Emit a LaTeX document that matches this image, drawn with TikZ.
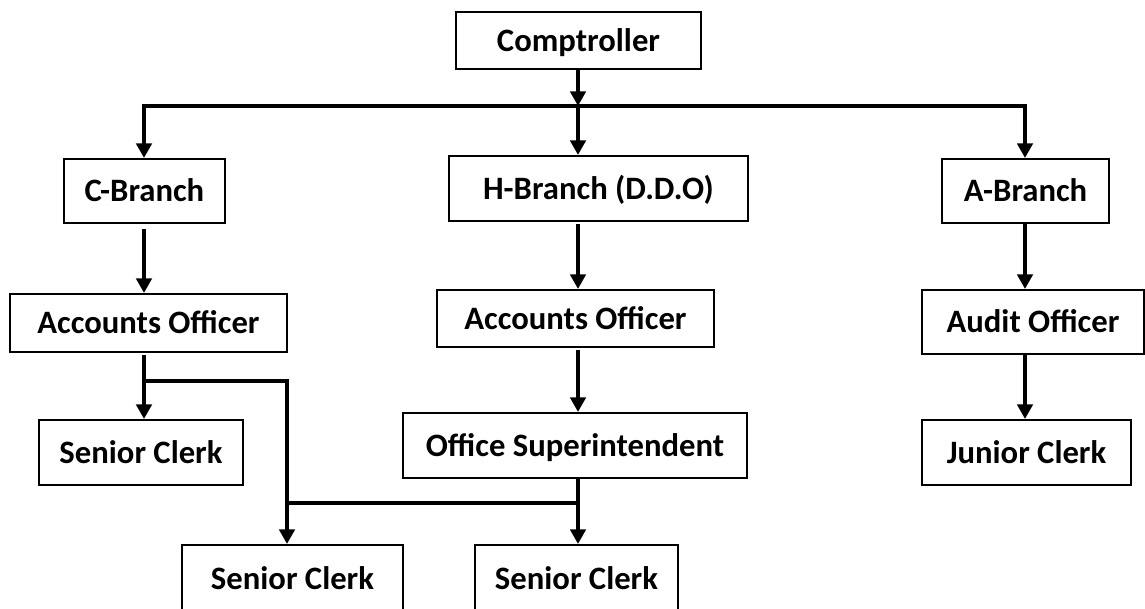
\documentclass[tikz,border=0pt]{standalone}
\usepackage{fontspec}
\setmainfont{Carlito}
\usetikzlibrary{arrows.meta}
\begin{document}
\begin{tikzpicture}[x=0.75pt,y=-0.75pt,
  box/.style={draw=black, line width=1.5pt, inner sep=0pt, align=center,
    text height=16.5pt, text depth=0.7pt,
    font=\fontsize{24.5}{28}\selectfont\bfseries},
  conn/.style={draw=black, line width=2.9pt},
  arr/.style={conn, -{Triangle[width=11.5pt,length=11pt]}}]
\useasboundingbox (0,0) rectangle (1145,608);
% boxes
\node[box, minimum width=183.75pt, minimum height=42.75pt] (comp) at (578.5,40.5) {Comptroller};
\node[box, minimum width=120.75pt, minimum height=48pt] (cb) at (144.5,191) {C-Branch};
\node[box, minimum width=224.25pt, minimum height=48.75pt] (hb) at (598.5,188.5) {H-Branch (D.D.O)};
\node[box, minimum width=125.25pt, minimum height=48pt] (ab) at (1025.5,191) {A-Branch};
\node[box, minimum width=207.75pt, minimum height=43.5pt] (ao1) at (148.5,323) {Accounts Officer};
\node[box, minimum width=207.75pt, minimum height=42.75pt] (ao2) at (575.5,318.5) {Accounts Officer};
\node[box, minimum width=166.5pt, minimum height=48pt] (aud) at (1033,322) {Audit Officer};
\node[box, minimum width=153pt, minimum height=48.75pt] (sc1) at (141,452.5) {Senior Clerk};
\node[box, minimum width=258pt, minimum height=48.75pt] (os) at (575,445.5) {Office Superintendent};
\node[box, minimum width=156.75pt, minimum height=48.75pt] (jc) at (1026.5,452.5) {Junior Clerk};
\node[box, minimum width=165.75pt, minimum height=50.25pt] (sc2) at (292.5,578.5) {Senior Clerk};
\node[box, minimum width=152.25pt, minimum height=50.25pt] (sc3) at (576.5,578.5) {Senior Clerk};
% junction points
\coordinate (busL) at (144,106);
\coordinate (busM) at (578,106);
\coordinate (busR) at (1025,106);
\coordinate (j1) at (144,381);
\coordinate (j2) at (287,381);
\coordinate (j3) at (578,503);
\coordinate (j4) at (287,503);
% connectors
\draw[arr] (comp.south -| busM) -- (busM);
\draw[arr] (busM) -- (busL) -- (cb.north -| busL);
\draw[arr] (busM) -- (busR) -- (ab.north -| busR);
\draw[arr] (busM) -- (hb.north -| busM);
\draw[arr] ([yshift=-3.5pt]cb.south -| busL) -- (ao1.north -| busL);
\draw[arr] ([yshift=-1.5pt]hb.south -| busM) -- (ao2.north -| busM);
\draw[arr] (ab.south -| busR) -- (aud.north -| busR);
\draw[arr] (aud.south -| busR) -- (jc.north -| busR);
\draw[arr] ([yshift=-1.5pt]ao2.south -| busM) -- (os.north -| busM);
\draw[arr] ([yshift=-1.5pt]ao1.south -| j1) -- (sc1.north -| j1);
\draw[arr] (j1) -- (j2) -- (sc2.north -| j2);
\draw[arr] (os.south -| j3) -- (sc3.north -| j3);
\draw[conn] (j3) -- (j4);
\end{tikzpicture}
\end{document}
